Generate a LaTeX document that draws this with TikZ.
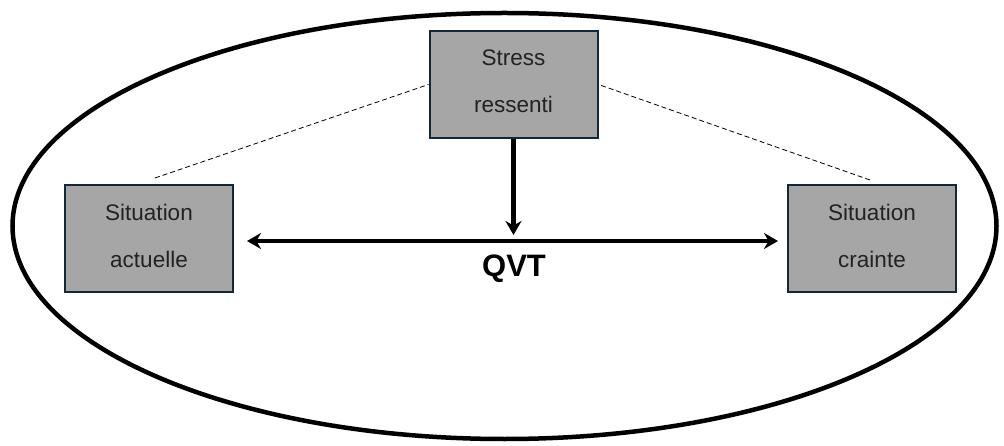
\documentclass[tikz,border=0pt]{standalone}
\usepackage{fontspec}
\setmainfont{Liberation Sans}
\usetikzlibrary{arrows.meta,shapes.geometric}
\definecolor{boxfill}{HTML}{A6A6A6}
\definecolor{boxline}{HTML}{102838}
\definecolor{txt}{HTML}{222222}
\begin{document}
\begin{tikzpicture}[x=1pt,y=-1pt,
  gbox/.style={draw=boxline,line width=2pt,fill=boxfill,minimum width=168pt,minimum height=107pt,inner sep=0pt},
  btxt/.style={text=txt,font=\fontsize{22.5}{47}\selectfont,align=center},
  thick arrow/.style={line width=4.5pt,-{Stealth[length=14pt,width=16pt]}},
  thin dash/.style={dashed,line width=0.8pt,dash pattern=on 5pt off 3pt}]
\useasboundingbox (0,0) rectangle (1004,446);
\node[draw,line width=4.5pt,ellipse,minimum width=984pt,minimum height=426pt,inner sep=0pt] (ell) at (504.5,226) {};
\node[gbox] (stress) at (513.5,84.5) {};
\node[gbox] (actu) at (149,239) {};
\node[gbox] (crainte) at (872,239) {};
\node[btxt] at ([yshift=3pt]stress.center) {Stress\\ressenti};
\node[btxt] at ([yshift=3pt]actu.center) {Situation\\actuelle};
\node[btxt] at ([yshift=3pt]crainte.center) {Situation\\crainte};
\coordinate (hl) at (247,241);
\coordinate (hr) at (778,241);
\coordinate (vt) at (513.5,235);
\draw[line width=4.5pt,{Stealth[length=14pt,width=16pt]}-{Stealth[length=14pt,width=16pt]}] (hl) -- (hr);
\draw[thick arrow] (stress.south) -- (vt);
\node[font=\bfseries\fontsize{31}{36}\selectfont] (qvt) at (514,269) {QVT};
\coordinate (d1) at (155,178);
\coordinate (d2) at (870,180);
\draw[thin dash] (d1) -- (stress.west);
\draw[thin dash] (d2) -- (stress.east);
\end{tikzpicture}
\end{document}
